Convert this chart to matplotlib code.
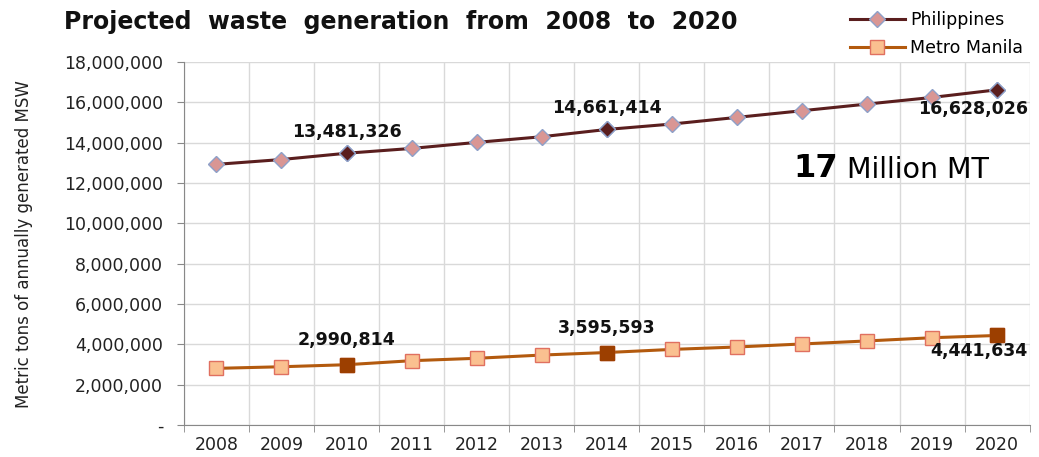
import matplotlib
matplotlib.use("Agg")
import matplotlib.pyplot as plt
from matplotlib.ticker import FuncFormatter, MultipleLocator
import numpy as np

years = ["2008", "2009", "2010", "2011", "2012", "2013", "2014",
         "2015", "2016", "2017", "2018", "2019", "2020"]
philippines = [12930000, 13170000, 13481326, 13720000, 14020000, 14300000, 14661414,
               14930000, 15260000, 15590000, 15920000, 16250000, 16628026]
metro_manila = [2810000, 2890000, 2990814, 3190000, 3310000, 3470000, 3595593,
                3750000, 3870000, 4020000, 4170000, 4330000, 4441634]
highlight_idx = [2, 6, 12]

ph_line, ph_face, ph_edge, ph_hi = "#5a1e1e", "#d99694", "#8ea0c8", "#5a1e1e"
mm_line, mm_face, mm_edge, mm_hi = "#b35a0e", "#fac090", "#e07060", "#9c3f00"

plt.rcParams["font.family"] = ["DejaVu Sans"]

fig = plt.figure(figsize=(10.39, 4.57), dpi=100)
ax = fig.add_axes([0.177, 0.07, 0.814, 0.794])

x = np.arange(len(years))
ax.plot(x, philippines, color=ph_line, lw=2.2, marker="D", ms=8,
        mfc=ph_face, mec=ph_edge, mew=1, label="Philippines", zorder=3)
ax.plot(x, metro_manila, color=mm_line, lw=2.2, marker="s", ms=10,
        mfc=mm_face, mec=mm_edge, mew=1, label="Metro Manila", zorder=3)

hx = [x[i] for i in highlight_idx]
ax.plot(hx, [philippines[i] for i in highlight_idx], ls="none", marker="D", ms=8,
        mfc=ph_hi, mec=ph_edge, mew=1, zorder=4)
ax.plot(hx, [metro_manila[i] for i in highlight_idx], ls="none", marker="s", ms=10,
        mfc=mm_hi, mec=mm_hi, mew=1, zorder=4)

lab_kw = dict(fontsize=12.5, fontweight="bold", color="#111111", zorder=5)
# labels above for 2010 and 2014, below-left for 2020
for i in highlight_idx[:2]:
    ax.annotate(f"{philippines[i]:,}", (x[i], philippines[i]), xytext=(0, 9),
                textcoords="offset points", ha="center", va="bottom", **lab_kw)
    ax.annotate(f"{metro_manila[i]:,}", (x[i], metro_manila[i]), xytext=(0, 11),
                textcoords="offset points", ha="center", va="bottom", **lab_kw)
i = highlight_idx[2]
ax.annotate(f"{philippines[i]:,}", (x[i], philippines[i]), xytext=(22, -7),
            textcoords="offset points", ha="right", va="top", **lab_kw)
ax.annotate(f"{metro_manila[i]:,}", (x[i], metro_manila[i]), xytext=(22, -5),
            textcoords="offset points", ha="right", va="top", **lab_kw)

fig.text(0.807, 0.632, "17", fontsize=23, fontweight="bold", ha="right", va="center")
fig.text(0.815, 0.628, "Million MT", fontsize=20.5, ha="left", va="center")

ax.set_xlim(-0.5, len(years) - 0.5)
ax.set_ylim(0, 18000000)
ax.yaxis.set_major_locator(MultipleLocator(2000000))
ax.yaxis.set_major_formatter(FuncFormatter(lambda v, p: "-" if v == 0 else f"{int(v):,}"))
ax.set_xticks(x)
ax.set_xticklabels(years)
ax.set_xticks(np.arange(-0.5, len(years)), minor=True)
ax.tick_params(axis="x", which="major", length=0, labelsize=12.5, pad=8, colors="#222222")
ax.tick_params(axis="x", which="minor", length=5, color="#888888", direction="out")
ax.tick_params(axis="y", length=5, color="#888888", labelsize=12.5, pad=10, labelcolor="#222222")

ax.grid(True, which="major", axis="y", color="#d9d9d9", lw=1)
ax.grid(True, which="minor", axis="x", color="#d9d9d9", lw=1)
ax.set_axisbelow(True)
for s in ["top", "right"]:
    ax.spines[s].set_visible(False)
for s in ["left", "bottom"]:
    ax.spines[s].set_color("#888888")

ax.set_ylabel("Metric tons of annually generated MSW", fontsize=12, color="#222222",
              labelpad=22)

fig.text(0.062, 0.952, "Projected  waste  generation  from  2008  to  2020", fontsize=17,
         fontweight="bold", ha="left", va="center", color="#111111")

fig.legend(loc="upper right", bbox_to_anchor=(1.0, 1.01), frameon=False, fontsize=12.5,
           handlelength=3.2, handletextpad=0.3, labelspacing=0.6)

fig.savefig("out.png", dpi=100)
